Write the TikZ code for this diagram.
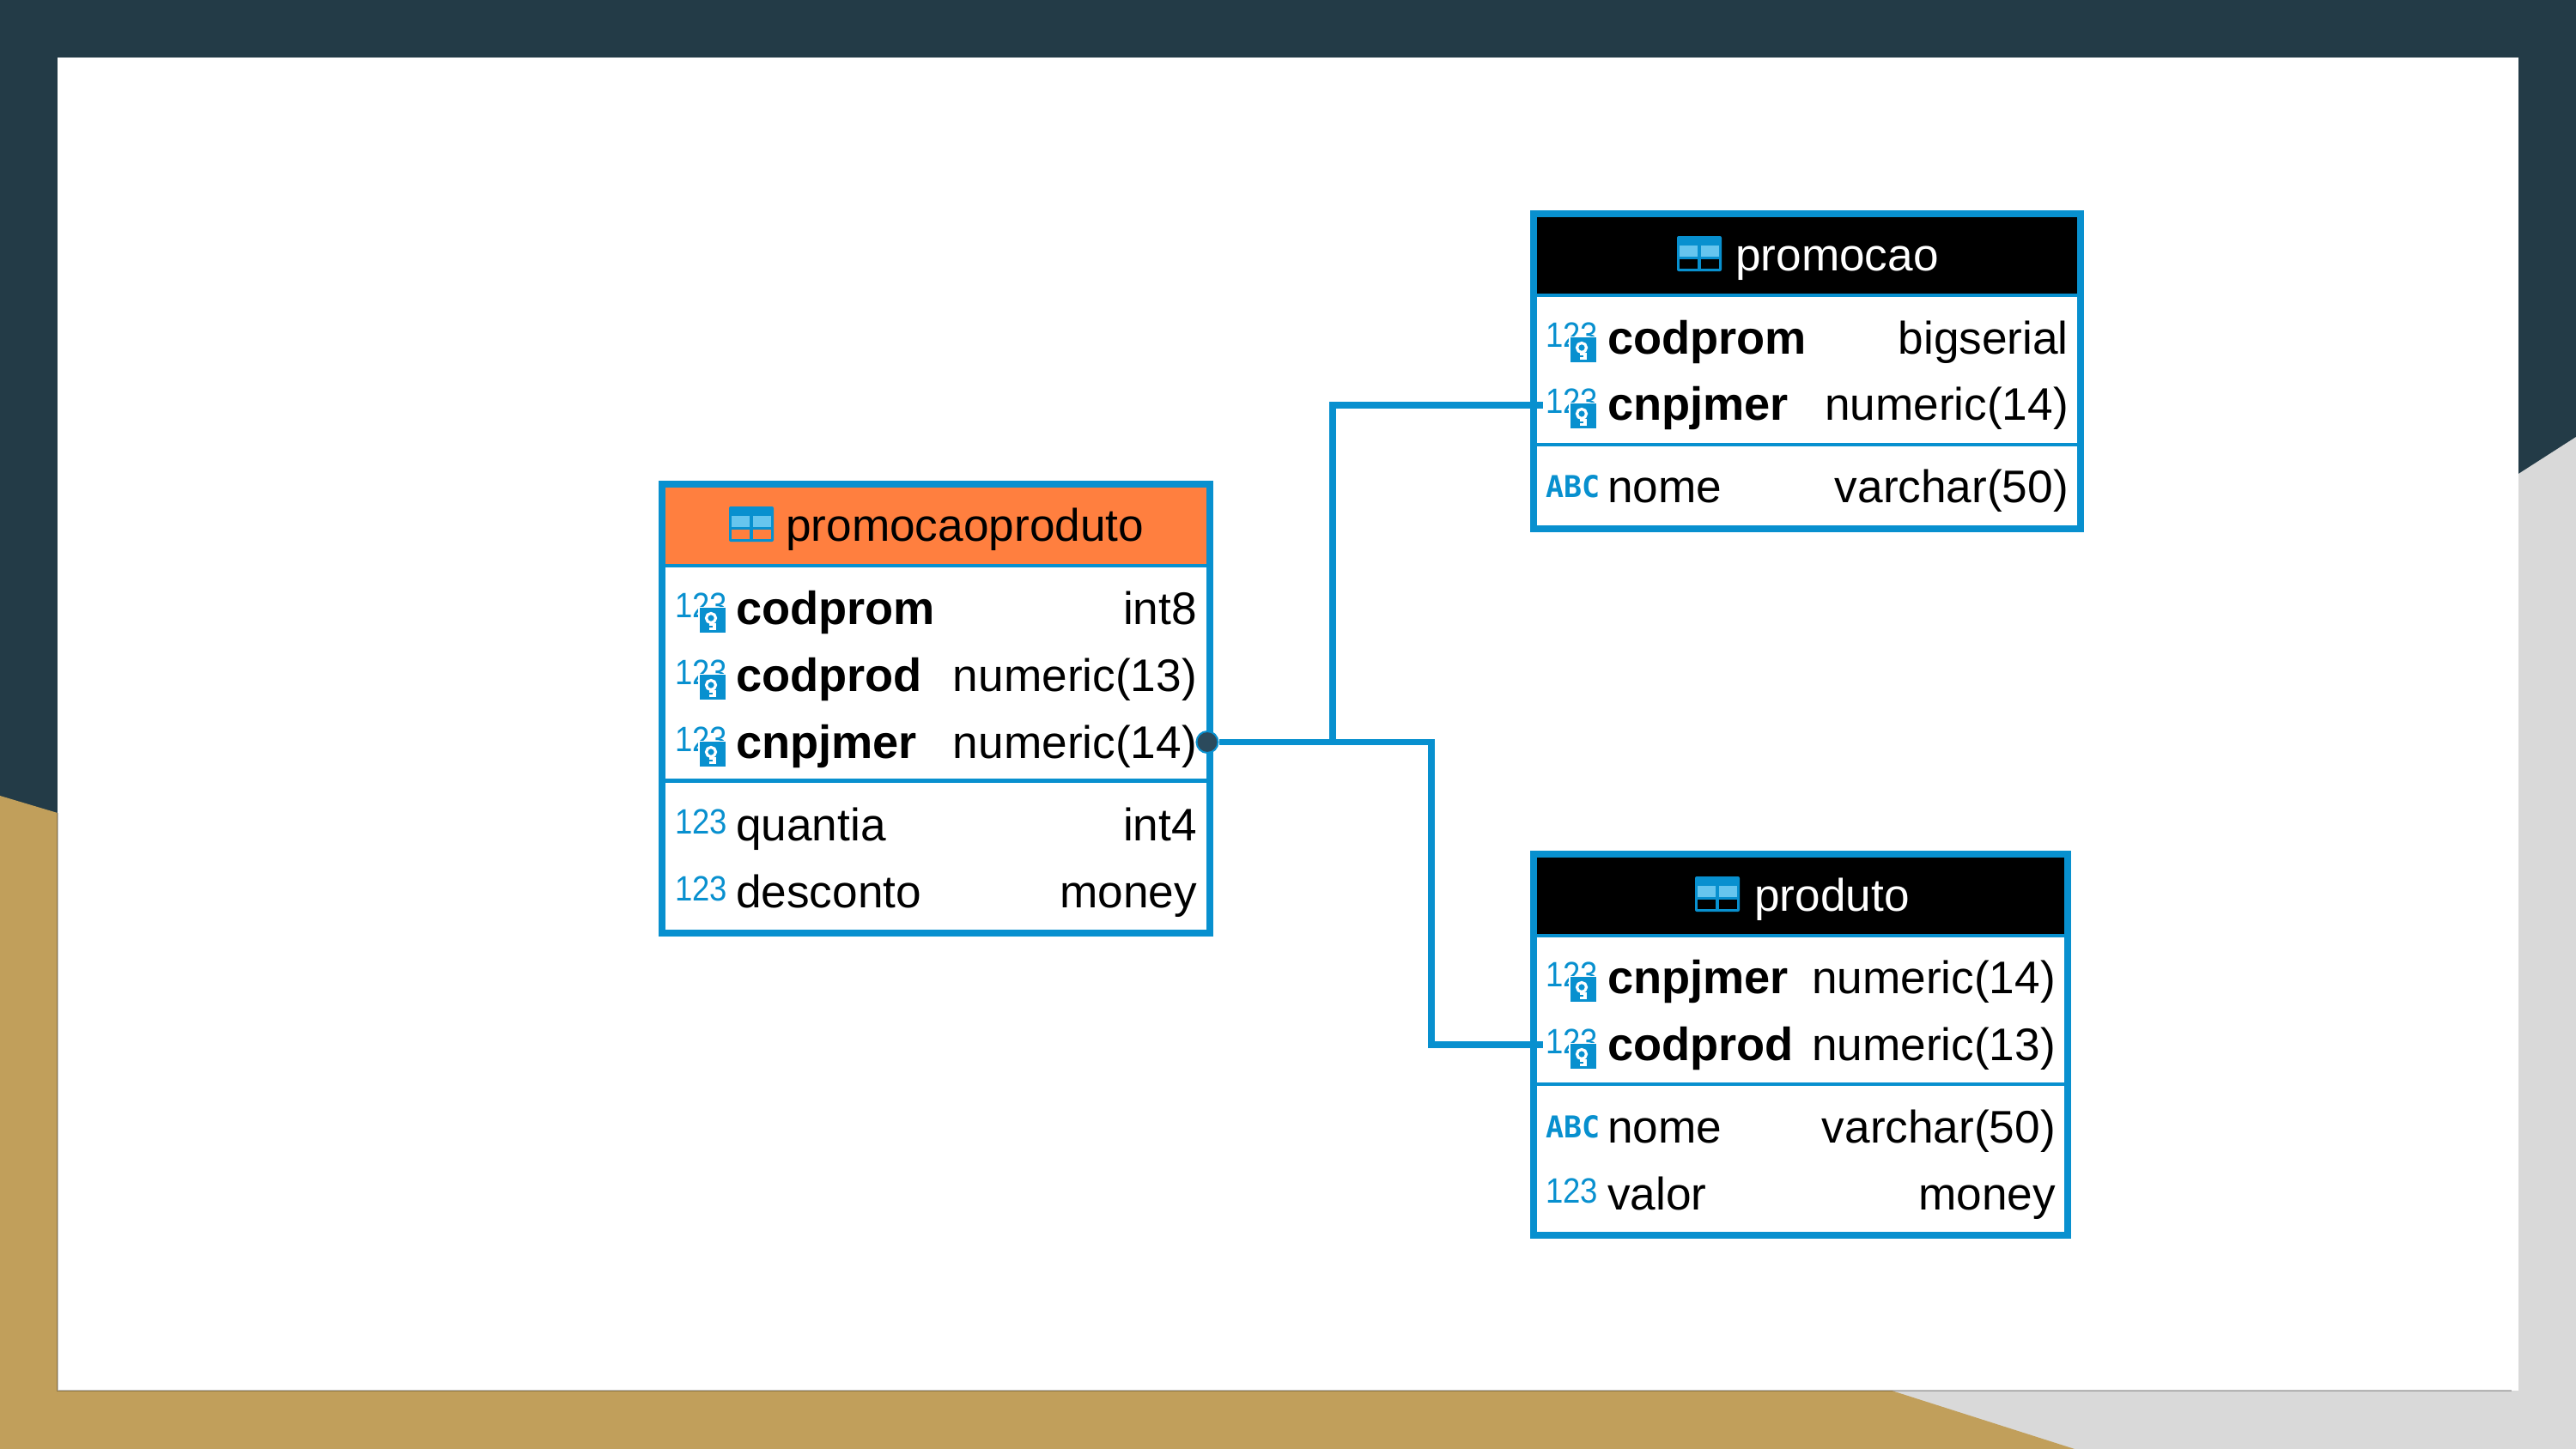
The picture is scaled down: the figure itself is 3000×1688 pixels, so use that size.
\documentclass[tikz,border=0pt]{standalone}
\usepackage{fontspec}
\setmainfont{Liberation Sans}
\newfontfamily\iconfont{DejaVu Sans Mono}
\definecolor{dkbg}{HTML}{233B47}
\definecolor{tanbg}{HTML}{C19F5B}
\definecolor{graybg}{HTML}{D9D9D9}
\definecolor{erblue}{HTML}{0890CF}
\definecolor{lightblue}{HTML}{66C5EE}
\definecolor{hdorange}{HTML}{FF7F3F}
\definecolor{dotcol}{HTML}{2B4A5C}
\tikzset{
  x=1bp,y=-1bp,
  tablebox/.style={draw=erblue,line width=8bp,rectangle,inner sep=0pt,outer sep=0pt},
  rowtext/.style={font=\fontsize{53.2bp}{60bp}\selectfont,text=black,inner sep=0pt,anchor=base west},
  keytext/.style={font=\fontsize{54.2bp}{60bp}\selectfont\bfseries,text=black,inner sep=0pt,anchor=base west},
  typetext/.style={font=\fontsize{53.2bp}{60bp}\selectfont,text=black,inner sep=0pt,anchor=base east},
  headtext/.style={font=\fontsize{53.2bp}{60bp}\selectfont,inner sep=0pt,anchor=base west},
  conn/.style={draw=erblue,line width=7.5bp,line join=miter},
  divider/.style={draw=erblue,line width=4.5bp},
  hdline/.style={draw=erblue,line width=4bp},
  numglyph/.style={font=\fontsize{41bp}{44bp}\selectfont,text=erblue,inner sep=0pt,anchor=base west,xscale=.89},
  abcglyph/.style={font=\fontsize{35bp}{40bp}\iconfont\bfseries,text=erblue,inner sep=0pt,anchor=base west},
}
% number icon: #1 name, #2 left x, #3 baseline y of the row
\newcommand{\numIcon}[3]{\node[numglyph] (#1) at (#2,#3-8) {123};}
% number icon with key badge
\newcommand{\keyIcon}[3]{%
  \numIcon{#1}{#2}{#3}
  \begin{scope}[shift={(#2,#3)}]
    \fill[white] (27,-20) rectangle (61,12);
    \fill[erblue] (29,-19) rectangle (59,10);
    \draw[white,line width=3.2bp] (42,-7) circle (5.5);
    \fill[white] (40,-1) rectangle (48,7);
    \fill[erblue] (40,1.5) rectangle (44,4);
  \end{scope}}
\newcommand{\abcIcon}[3]{\node[abcglyph] (#1) at (#2,#3-6) {ABC};}
% table icon: #1 left x, #2 top y, #3 colour of the lower cells
\newcommand{\tblIcon}[3]{%
  \begin{scope}[shift={(#1,#2)}]
    \fill[erblue,rounded corners=2bp] (0,0) rectangle (52,41);
    \fill[lightblue] (3,11) rectangle (24,24);
    \fill[lightblue] (28,11) rectangle (49,24);
    \fill[#3] (3,27) rectangle (24,38);
    \fill[#3] (28,27) rectangle (49,38);
  \end{scope}}
\begin{document}
\begin{tikzpicture}
\useasboundingbox (0,0) rectangle (3000,1688);
% background
\fill[dkbg] (0,0) rectangle (3000,1688);
\fill[graybg] (3000,509) -- (3000,1688) -- (2000,1688) -- (2000,1620) -- (2933,552) -- cycle;
\fill[tanbg] (0,927) -- (67,947) -- (67,1620) -- (2203,1620) -- (2416,1688) -- (0,1688) -- cycle;
\fill[white] (67,67) rectangle (2933,1620);
\draw[black,opacity=.25,line width=1.2bp] (67,947) -- (67,1620) -- (2925,1620);

% ---------- promocaoproduto ----------
\fill[hdorange] (770,564) rectangle (1409,658);
\node[tablebox,minimum width=638bp,minimum height=522.5bp] (promocaoproduto) at (1089.5,825.25) {};
\draw[hdline] (770,658.5) -- (1409,658.5);
\draw[divider] (770,909.5) -- (1409,909.5);
\tblIcon{849}{590}{hdorange}
\node[headtext,text=black] (h1) at (915,630) {promocaoproduto};
\keyIcon{i1a}{786}{727}
\node[keytext] (n1a) at (857,727) {codprom};
\node[typetext] (t1a) at (1394,727) {int8};
\keyIcon{i1b}{786}{805}
\node[keytext] (n1b) at (857,805) {codprod};
\node[typetext] (t1b) at (1394,805) {numeric(13)};
\keyIcon{i1c}{786}{883}
\node[keytext] (n1c) at (857,883) {cnpjmer};
\node[typetext] (t1c) at (1394,883) {numeric(14)};
\numIcon{i1d}{786}{979}
\node[rowtext] (n1d) at (857,979) {quantia};
\node[typetext] (t1d) at (1394,979) {int4};
\numIcon{i1e}{786}{1057}
\node[rowtext] (n1e) at (857,1057) {desconto};
\node[typetext] (t1e) at (1394,1057) {money};

% ---------- promocao ----------
\fill[black] (1786,249) rectangle (2423,343);
\node[tablebox,minimum width=637bp,minimum height=367bp] (promocao) at (2104.5,432.5) {};
\draw[hdline] (1786,343.5) -- (2423,343.5);
\draw[divider] (1786,518) -- (2423,518);
\tblIcon{1953}{275}{black}
\node[headtext,text=white] (h2) at (2021,315) {promocao};
\keyIcon{i2a}{1800}{412}
\node[keytext] (n2a) at (1872,412) {codprom};
\node[typetext] (t2a) at (2409,412) {bigserial};
\keyIcon{i2b}{1800}{489}
\node[keytext] (n2b) at (1872,489) {cnpjmer};
\node[typetext] (t2b) at (2409,489) {numeric(14)};
\abcIcon{i2c}{1800}{585}
\node[rowtext] (n2c) at (1872,585) {nome};
\node[typetext] (t2c) at (2409,585) {varchar(50)};

% ---------- produto ----------
\fill[black] (1786,995) rectangle (2408,1089);
\node[tablebox,minimum width=622bp,minimum height=444bp] (produto) at (2097,1216.5) {};
\draw[hdline] (1786,1089.5) -- (2408,1089.5);
\draw[divider] (1786,1263) -- (2408,1263);
\tblIcon{1974}{1021}{black}
\node[headtext,text=white] (h3) at (2043,1061) {produto};
\keyIcon{i3a}{1800}{1157}
\node[keytext] (n3a) at (1872,1157) {cnpjmer};
\node[typetext] (t3a) at (2394,1157) {numeric(14)};
\keyIcon{i3b}{1800}{1235}
\node[keytext] (n3b) at (1872,1235) {codprod};
\node[typetext] (t3b) at (2394,1235) {numeric(13)};
\abcIcon{i3c}{1800}{1331}
\node[rowtext] (n3c) at (1872,1331) {nome};
\node[typetext] (t3c) at (2394,1331) {varchar(50)};
\numIcon{i3d}{1800}{1409}
\node[rowtext] (n3d) at (1872,1409) {valor};
\node[typetext] (t3d) at (2394,1409) {money};

% ---------- connectors ----------
\node[circle,fill=dotcol,draw=erblue,line width=2bp,minimum size=25bp,inner sep=0pt] (fkdot) at (1406,864.5) {};
\coordinate (portA) at (1797,472);
\coordinate (portB) at (1797,1217);
\coordinate (jointA) at (1552,864.5);
\coordinate (jointB) at (1667,864.5);
\draw[conn] (fkdot) -- (jointB) |- (portB);
\draw[conn] (jointA) |- (portA);
\end{tikzpicture}
\end{document}
